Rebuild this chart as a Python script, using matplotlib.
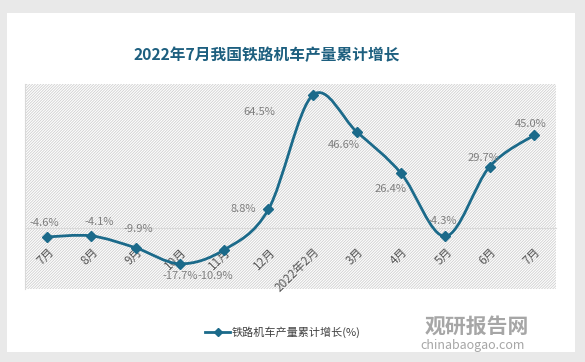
import matplotlib.pyplot as plt
from matplotlib.path import Path
from matplotlib.patches import PathPatch, Rectangle
from matplotlib.lines import Line2D

plt.rcParams['font.family'] = ['Noto Sans CJK SC', 'DejaVu Sans']

# data
months = ['7月', '8月', '9月', '10月', '11月', '12月', '2022年2月', '3月', '4月', '5月', '6月', '7月']
growth = [-4.6, -4.1, -9.9, -17.7, -10.9, 8.8, 64.5, 46.6, 26.4, -4.3, 29.7, 45.0]
labels = ['-4.6%', '-4.1%', '-9.9%', '-17.7%', '-10.9%', '8.8%', '64.5%', '46.6%', '26.4%', '-4.3%', '29.7%', '45.0%']
# label offsets in pixels (dx, dy)
label_offsets = [(-3, 14), (8, 14), (3, 19), (0, -12), (-9, -26), (-25, 0),
                 (-53, -17), (-13, -13), (-11, -16), (-3, 15), (-6, 9), (-3, 11)]

line_color = '#1b6a8a'
W, H = 585, 362

fig = plt.figure(figsize=(W / 100, H / 100), dpi=100)
fig.patch.set_facecolor('#e9e9e9')
# white card
fig.add_artist(Rectangle((7 / W, 1 - 352 / H), 568 / W, 339 / H, transform=fig.transFigure,
                         facecolor='white', edgecolor='none', zorder=0))

ax = fig.add_axes([25 / W, 1 - 289 / H, 531 / W, 205 / H])
ax.set_facecolor('white')
ax.set_xlim(-0.5, len(months) - 0.5)
ax.set_ylim(-30, 70)

# hatched plot area
plt.rcParams['hatch.linewidth'] = 0.6
ax.add_patch(Rectangle((0, 0), 1, 1, transform=ax.transAxes, facecolor='white',
                       edgecolor='#cfcfcf', hatch='/' * 12, linewidth=0, zorder=0))

for s in ['top', 'right']:
    ax.spines[s].set_visible(False)
ax.spines['left'].set_color('#d9d9d9')
ax.spines['bottom'].set_position(('data', 0))
ax.spines['bottom'].set_color('#d9d9d9')
ax.set_yticks([])
ax.set_xticks(range(len(months)))
ax.set_xticklabels(months, rotation=45, ha='right', va='top', rotation_mode='anchor',
                   fontsize=8.5, color='#595959')
ax.tick_params(axis='x', length=0, pad=13)

# smoothed line (Catmull-Rom as cubic Bezier)
xs = list(range(len(growth)))
pts = list(zip(xs, growth))
verts = [pts[0]]
codes = [Path.MOVETO]
n = len(pts)
for i in range(n - 1):
    p0 = pts[i - 1] if i > 0 else pts[i]
    p1 = pts[i]
    p2 = pts[i + 1]
    p3 = pts[i + 2] if i + 2 < n else pts[i + 1]
    c1 = (p1[0] + (p2[0] - p0[0]) / 6, p1[1] + (p2[1] - p0[1]) / 6)
    c2 = (p2[0] - (p3[0] - p1[0]) / 6, p2[1] - (p3[1] - p1[1]) / 6)
    verts += [c1, c2, p2]
    codes += [Path.CURVE4] * 3
ax.add_patch(PathPatch(Path(verts, codes), facecolor='none', edgecolor=line_color, lw=2, zorder=3))
ax.plot(xs, growth, linestyle='none', marker='D', markersize=5, color=line_color, zorder=4)

for x, y, lab, (dx, dy) in zip(xs, growth, labels, label_offsets):
    ax.annotate(lab, (x, y), xytext=(dx, dy), textcoords='offset pixels',
                ha='center', va='center', fontsize=8, color='#7f7f7f', zorder=5)

fig.text(267 / W, 1 - 55 / H, '2022年7月我国铁路机车产量累计增长', ha='center', va='center',
         fontsize=11.3, fontweight='bold', color='#1d5f7f')

# legend
fig.add_artist(Line2D([205 / W, 230 / W], [1 - 332 / H] * 2, transform=fig.transFigure,
                      color=line_color, lw=2))
fig.add_artist(Line2D([217.5 / W], [1 - 332 / H], transform=fig.transFigure,
                      color=line_color, marker='D', markersize=4))
fig.text(232 / W, 1 - 332 / H, '铁路机车产量累计增长(%)', ha='left', va='center',
         fontsize=8, color='#404040')

# watermark
fig.text(425 / W, 1 - 326 / H, '观研报告网', ha='left', va='center', fontsize=15,
         fontweight='bold', color='#a6a6a6')
fig.text(420 / W, 1 - 345 / H, 'chinabaogao.com', ha='left', va='center', fontsize=9,
         color='#a6a6a6')

fig.savefig('out.png', dpi=100, facecolor=fig.get_facecolor())
